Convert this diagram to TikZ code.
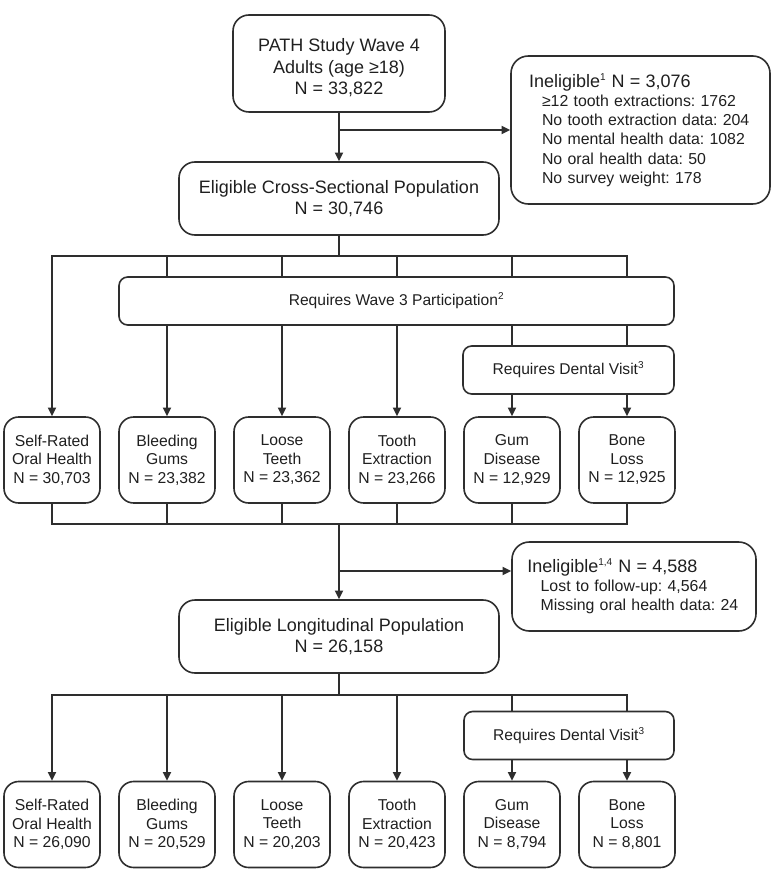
\documentclass[tikz,border=0pt]{standalone}
\usepackage{fontspec}
\setmainfont{Liberation Sans}
\usetikzlibrary{arrows.meta}
\frenchspacing

\definecolor{linegray}{HTML}{2E2E2E}
\definecolor{textgray}{HTML}{1F1F1F}
\newcommand{\titlefont}{\fontsize{13.5pt}{15.8pt}\selectfont}
\newcommand{\cellfont}{\fontsize{11.8pt}{13.9pt}\selectfont}
\newcommand{\notefont}{\fontsize{11.7pt}{14pt}\selectfont}
\newcommand{\subfont}{\fontsize{11.9pt}{14.4pt}\selectfont}
\newcommand{\supnote}[1]{\textsuperscript{\fontsize{7.5pt}{8pt}\selectfont #1}}

\begin{document}
\begin{tikzpicture}[x=0.75pt, y=-0.75pt,
  box/.style={draw=linegray, line width=1.2pt, rounded corners=12pt, align=center, inner sep=0pt, text=textgray},
  popbox/.style={box, font=\titlefont, minimum width=240pt, minimum height=54.75pt},
  exclbox/.style={box, rounded corners=13pt, align=left, font=\subfont},
  outcome/.style={box, rounded corners=11pt, font=\cellfont, minimum width=72pt, minimum height=64.5pt},
  reqbox/.style={box, rounded corners=6.5pt, font=\notefont, minimum height=36pt},
  link/.style={draw=linegray, line width=1.4pt},
  arr/.style={link, -{Triangle[length=6.5pt, width=6pt]}}
]
\useasboundingbox (0,0) rectangle (774,873);

% Wave 4 sample and first exclusions
\node[box, font=\titlefont, minimum width=159pt, minimum height=72.75pt] (wave4) at (339,63.5)
  {\rule{0pt}{16pt}PATH Study Wave 4\\Adults (age ≥18)\\N = 33,822};
\node[exclbox, text width=167.25pt, inner xsep=13.5pt, minimum height=111pt] (excl1) at (640.5,130)
  {{\titlefont Ineligible\supnote{1} N = 3,076}\\
   \hspace*{9.75pt}≥12 tooth extractions: 1762\\
   \hspace*{9.75pt}No tooth extraction data: 204\\
   \hspace*{9.75pt}No mental health data: 1082\\
   \hspace*{9.75pt}No oral health data: 50\\
   \hspace*{9.75pt}No survey weight: 178};

% Cross-sectional population
\node[popbox] (cross) at (339,198.5) {Eligible Cross-Sectional Population\\N = 30,746};
\node[reqbox, minimum width=416.25pt] (wave3) at (396.5,301) {Requires Wave 3 Participation\supnote{2}};
\node[reqbox, minimum width=158.25pt] (dental1) at (568.5,370) {Requires Dental Visit\supnote{3}};

% Cross-sectional outcomes
\node[outcome] (srh1) at (52,460) {Self-Rated\\Oral Health\\N = 30,703};
\node[outcome] (bleed1) at (167,460) {Bleeding\\Gums\\N = 23,382};
\node[outcome] (loose1) at (282,460) {Loose\\Teeth\\N = 23,362};
\node[outcome] (tooth1) at (397,460) {Tooth\\Extraction\\N = 23,266};
\node[outcome] (gum1) at (512,460) {Gum\\Disease\\N = 12,929};
\node[outcome] (bone1) at (627,460) {Bone\\Loss\\N = 12,925};

% Longitudinal population and follow-up exclusions
\node[exclbox, text width=160pt, inner xsep=11.5pt, minimum height=66.75pt] (excl2) at (634,586.5)
  {{\titlefont Ineligible\supnote{1,4} N = 4,588}\\
   \hspace*{10pt}Lost to follow-up: 4,564\\
   \hspace*{10pt}Missing oral health data: 24};
\node[popbox] (long) at (339,636.5) {Eligible Longitudinal Population\\N = 26,158};
\node[reqbox, minimum width=157.5pt] (dental2) at (569,735.5) {Requires Dental Visit\supnote{3}};

% Longitudinal outcomes
\node[outcome] (srh2) at (52,824.5) {Self-Rated\\Oral Health\\N = 26,090};
\node[outcome] (bleed2) at (167,824.5) {Bleeding\\Gums\\N = 20,529};
\node[outcome] (loose2) at (282,824.5) {Loose\\Teeth\\N = 20,203};
\node[outcome] (tooth2) at (397,824.5) {Tooth\\Extraction\\N = 20,423};
\node[outcome] (gum2) at (512,824.5) {Gum\\Disease\\N = 8,794};
\node[outcome] (bone2) at (627,824.5) {Bone\\Loss\\N = 8,801};

% bus lines
\coordinate (bus1) at (339,256);
\coordinate (bus2) at (339,524);
\coordinate (split2) at (339,571);
\coordinate (bus3) at (339,695);

% Wave 4 -> cross-sectional
\draw[arr] (wave4) -- (cross);
\draw[arr] (wave4.south |- excl1.west) -- (excl1.west);

% cross-sectional -> outcomes
\draw[link] (cross) -- (bus1);
\draw[link, line cap=rect] (bus1 -| srh1) -- (bus1 -| bone1);
\draw[arr] (bus1 -| srh1) -- (srh1);
\draw[link] (bus1 -| bleed1) -- (wave3.north -| bleed1)
            (bus1 -| loose1) -- (wave3.north -| loose1)
            (bus1 -| tooth1) -- (wave3.north -| tooth1)
            (bus1 -| gum1) -- (wave3.north -| gum1)
            (bus1 -| bone1) -- (wave3.north -| bone1)
            (wave3.south -| gum1) -- (dental1.north -| gum1)
            (wave3.south -| bone1) -- (dental1.north -| bone1);
\draw[arr] (wave3.south -| bleed1) -- (bleed1);
\draw[arr] (wave3.south -| loose1) -- (loose1);
\draw[arr] (wave3.south -| tooth1) -- (tooth1);
\draw[arr] (dental1.south -| gum1) -- (gum1);
\draw[arr] (dental1.south -| bone1) -- (bone1);

% outcomes -> longitudinal
\draw[link] (srh1) -- (bus2 -| srh1) (bleed1) -- (bus2 -| bleed1)
            (loose1) -- (bus2 -| loose1) (tooth1) -- (bus2 -| tooth1)
            (gum1) -- (bus2 -| gum1) (bone1) -- (bus2 -| bone1);
\draw[link, line cap=rect] (bus2 -| srh1) -- (bus2 -| bone1);
\draw[arr] (bus2) -- (long);
\draw[arr] (split2) -- (split2 -| excl2.west);

% longitudinal -> outcomes
\draw[link] (long) -- (bus3);
\draw[link, line cap=rect] (bus3 -| srh2) -- (bus3 -| bone2);
\draw[arr] (bus3 -| srh2) -- (srh2);
\draw[arr] (bus3 -| bleed2) -- (bleed2);
\draw[arr] (bus3 -| loose2) -- (loose2);
\draw[arr] (bus3 -| tooth2) -- (tooth2);
\draw[link] (bus3 -| gum2) -- (dental2.north -| gum2)
            (bus3 -| bone2) -- (dental2.north -| bone2);
\draw[arr] (dental2.south -| gum2) -- (gum2);
\draw[arr] (dental2.south -| bone2) -- (bone2);

\end{tikzpicture}
\end{document}
